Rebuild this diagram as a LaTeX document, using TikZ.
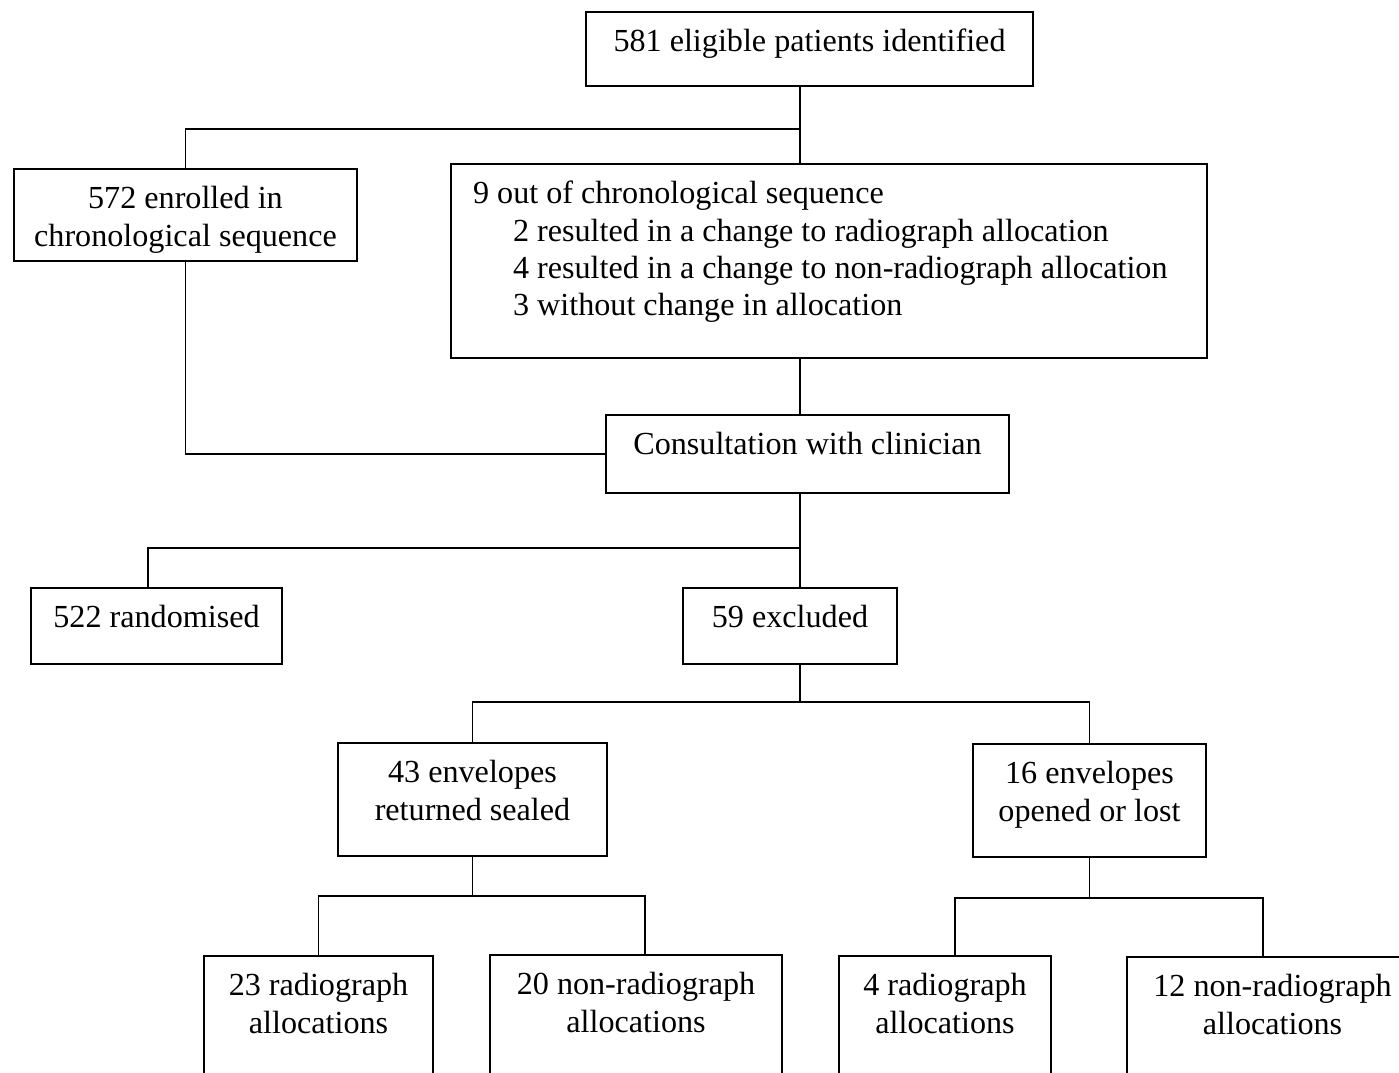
\documentclass[tikz,border=0pt]{standalone}
\usepackage{fontspec}
\setmainfont{Liberation Serif}
\tikzset{
  box/.style={draw, line width=1pt, anchor=north, inner sep=0pt, align=center,
    text height=22.8pt, font=\fontsize{18.3}{21.1}\selectfont},
  twobox/.style={box, text height=43.9pt},
  link/.style={line width=1pt}
}
\begin{document}
\begin{tikzpicture}[x=0.02cm, y=-0.02cm]
    \useasboundingbox (0,0) rectangle (1399,1072);
    \clip (0,0) rectangle (1399,1072);
    \node[box, minimum width=8.94cm, text depth=19.3pt] (found) at (809.5,11) {581 eligible patients identified};
    \node[twobox, minimum width=6.86cm, text depth=8.5pt] (enrol) at (185.5,168) {572 enrolled in\\chronological sequence};
    \node[box, align=flush left, text width=14.24cm, inner xsep=0.44cm, text depth=87.6pt] (outseq) at (829,163)
      {9 out of chronological sequence\\
       \hspace*{0.8cm}2 resulted in a change to radiograph allocation\\
       \hspace*{0.8cm}4 resulted in a change to non-radiograph allocation\\
       \hspace*{0.8cm}3 without change in allocation};
    \node[box, minimum width=8.06cm, text depth=21.6pt] (consult) at (807.5,414) {Consultation with clinician};
    \node[box, minimum width=5.02cm, text depth=20.5pt] (random) at (156.5,587) {522 randomised};
    \node[box, minimum width=4.28cm, text depth=20.5pt] (exclud) at (790,587) {59 excluded};
    \node[twobox, minimum width=5.38cm, text depth=20.4pt] (sealed) at (472.5,742) {43 envelopes\\returned sealed};
    \node[twobox, minimum width=4.66cm, text depth=20.4pt] (opened) at (1089.5,743) {16 envelopes\\opened or lost};
    \node[twobox, minimum width=4.58cm, text depth=61.4pt] (radA) at (318.5,955) {23 radiograph\\allocations};
    \node[twobox, minimum width=5.84cm, text depth=61.4pt] (nonA) at (636,954) {20 non-radiograph\\allocations};
    \node[twobox, minimum width=4.24cm, text depth=61.4pt] (radB) at (945,955) {4 radiograph\\allocations};
    \node[twobox, minimum width=5.82cm, text depth=61.4pt] (nonB) at (1272.5,956) {12 non-radiograph\\allocations};
    \coordinate (s1) at (800,129);
    \coordinate (s2) at (800,548);
    \coordinate (s2a) at (148,548);
    \coordinate (s3) at (800,702);
    \coordinate (s4b) at (645,896);
    \coordinate (s5a) at (955,898);
    \coordinate (s5b) at (1263,898);
    \draw[link] (found.south -| s1) -- (outseq.north -| s1);
    \draw[link] (s1) -| (enrol.north);
    \draw[link] (outseq.south -| s1) -- (consult.north -| s1);
    \draw[link] (enrol.south) |- (consult.west);
    \draw[link] (consult.south -| s2) -- (exclud.north -| s2);
    \draw[link] (s2) -- (s2a) -- (random.north -| s2a);
    \draw[link] (exclud.south -| s3) -- (s3);
    \draw[link] (sealed.north) |- (s3) -| (opened.north);
    \draw[link] (sealed.south) -- (sealed.south |- s4b);
    \draw[link] (radA.north) |- (s4b) -- (nonA.north -| s4b);
    \draw[link] (opened.south) -- (opened.south |- s5a);
    \draw[link] (radB.north -| s5a) -- (s5a) -- (s5b) -- (nonB.north -| s5b);
\end{tikzpicture}
\end{document}
